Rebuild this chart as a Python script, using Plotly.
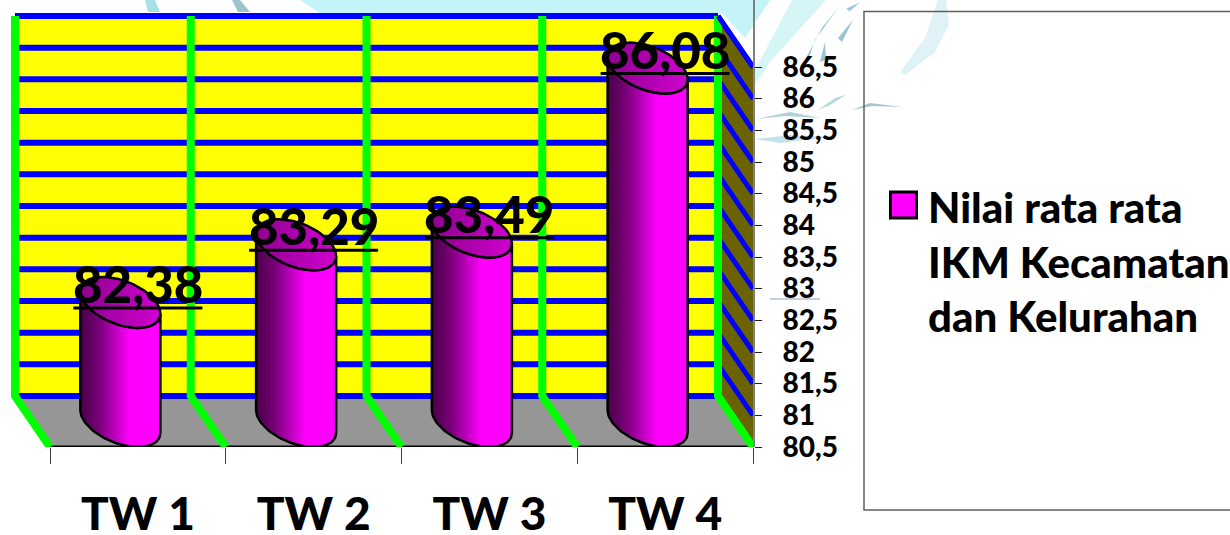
import numpy as np
import plotly.graph_objects as go

# Chart data
categories = ["TW 1", "TW 2", "TW 3", "TW 4"]
values = [82.38, 83.29, 83.49, 86.08]
tick_values = [80.5, 81, 81.5, 82, 82.5, 83, 83.5, 84, 84.5, 85, 85.5, 86, 86.5]
tick_labels = ["80,5", "81", "81,5", "82", "82,5", "83", "83,5", "84", "84,5", "85", "85,5", "86", "86,5"]
series_name = "Nilai rata rata<br>IKM Kecamatan<br>dan Kelurahan"

WIDTH, HEIGHT = 1230, 535
FONT = "Lato"
HEAVY = 900

# Pixel frame of the front plane of the box
PX_LEFT, PX_RIGHT, PX_BOTTOM, PX_TOP = 50.0, 753.0, 447.0, 67.0
X_UNIT = (PX_RIGHT - PX_LEFT) / len(categories)
Y_UNIT = (PX_BOTTOM - PX_TOP) / (tick_values[-1] - tick_values[0])

# Oblique depth: how far the back plane sits from the front plane, in axis units
DEPTH_X = -35.0 / X_UNIT
DEPTH_Y = 51.0 / Y_UNIT
Y_MIN, Y_MAX = tick_values[0], tick_values[-1]
N = len(categories)


def project(x, y, depth):
    """Front-plane axis position pushed back by depth (0 front, 1 back)."""
    return x + DEPTH_X * depth, y + DEPTH_Y * depth


def px(x):
    return x / WIDTH


def py(y):
    return 1 - y / HEIGHT


fig = go.Figure()


def polygon(points, color):
    xs, ys = zip(*points)
    fig.add_trace(go.Scatter(x=xs, y=ys, mode="lines", fill="toself", fillcolor=color,
                             line=dict(width=0), hoverinfo="skip", showlegend=False))


def line(points, color, width):
    xs, ys = zip(*points)
    fig.add_trace(go.Scatter(x=xs, y=ys, mode="lines", cliponaxis=False,
                             line=dict(color=color, width=width, shape="linear"),
                             hoverinfo="skip", showlegend=False))


# Box walls
polygon([project(0, Y_MIN, 1), project(N, Y_MIN, 1), project(N, Y_MAX, 1), project(0, Y_MAX, 1)], "#ffff00")
polygon([project(0, Y_MIN, 1), project(N, Y_MIN, 1), project(N, Y_MIN, 0), project(0, Y_MIN, 0)], "#969696")
polygon([project(N, Y_MIN, 1), project(N, Y_MIN, 0), project(N, Y_MAX, 0), project(N, Y_MAX, 1)], "#6b6300")

# Value gridlines: along the back wall, then forward on the side wall
for tick in tick_values:
    line([project(0, tick, 1), project(N, tick, 1)], "#0000ff", 6)
    if tick != Y_MIN:
        line([project(N, tick, 1), project(N, tick, 0)], "#0000ff", 5)

# Front edge of the floor
line([(0, Y_MIN), (N, Y_MIN)], "#000000", 3)

# Category gridlines: up the back wall and forward along the floor
for i in range(N + 1):
    line([project(i, Y_MAX, 1), project(i, Y_MIN, 1), project(i, Y_MIN, 0)], "#00ff00", 8)
line([project(N, Y_MAX, 1), project(N, Y_MAX, 0)], "#0000ff", 5)

# Cylinders stand halfway into the box
RADIUS_X = 36.0 / X_UNIT
BODY = [[0, "#470047"], [0.25, "#7d007d"], [0.62, "#ff00ff"], [1, "#ff00ff"]]
TOP = [[0, "#8f008f"], [1, "#d000d0"]]
t_edge = np.arctan2(DEPTH_X * -0.5, RADIUS_X)


def rim(cx, cy, t):
    return (cx + RADIUS_X * np.cos(t) - DEPTH_X * 0.5 * np.sin(t),
            cy - DEPTH_Y * 0.5 * np.sin(t))


for i, value in enumerate(values):
    cx, _ = project(i + 0.5, value, 0.5)
    top_y = value + DEPTH_Y * 0.5
    base_y = Y_MIN + DEPTH_Y * 0.5
    front = np.linspace(t_edge, t_edge + np.pi, 60)
    bx, by = rim(cx, base_y, front)
    fx, fy = rim(cx, top_y, front[::-1])
    fig.add_trace(go.Scatter(
        x=np.r_[bx, fx, bx[0]], y=np.r_[by, fy, by[0]],
        mode="lines", fill="toself", cliponaxis=False,
        fillgradient=dict(type="horizontal", colorscale=BODY),
        line=dict(color="#000000", width=2.5), hoverinfo="skip", showlegend=False))
    around = np.linspace(0, 2 * np.pi, 90)
    ex, ey = rim(cx, top_y, around)
    fig.add_trace(go.Scatter(
        x=ex, y=ey, mode="lines", fill="toself", cliponaxis=False,
        fillgradient=dict(type="horizontal", colorscale=TOP),
        line=dict(color="#000000", width=2.5), hoverinfo="skip", showlegend=False))

# Value labels with a rule beneath, sitting above the front-plane height of each value
annotations = []
RULE_RISE = 20.0 / Y_UNIT
RULE_HALF = 64.5 / X_UNIT
for i, value in enumerate(values):
    rule_y = value + RULE_RISE
    line([(i + 0.5 - RULE_HALF, rule_y), (i + 0.5 + RULE_HALF, rule_y)], "#000000", 3)
    annotations.append(dict(
        x=i + 0.5, y=rule_y, xref="x", yref="y", showarrow=False,
        text=f"{value:.2f}".replace(".", ","),
        font=dict(family=FONT, size=51, color="#000000", weight=HEAVY),
        xanchor="center", yanchor="bottom", yshift=-8))

# Legend text
annotations.append(dict(
    x=px(926), y=py(261), xref="paper", yref="paper", showarrow=False,
    text=series_name, align="left", xanchor="left", yanchor="middle",
    font=dict(family=FONT, size=42, color="#000000", weight=HEAVY)))

shapes = []


def decor(path, color, opacity=1.0):
    """Pale background wash and brush strokes, given as (x, y) pixel points."""
    d = "M " + " L ".join(f"{px(x):.5f},{py(y):.5f}" for x, y in path) + " Z"
    shapes.append(dict(type="path", path=d, xref="paper", yref="paper", layer="below",
                       fillcolor=color, line=dict(width=0), opacity=opacity))


decor([(145, 0), (155, 0), (160, 12), (148, 12)], "#a9dfe6")
decor([(232, 0), (240, 0), (250, 12), (238, 12)], "#9ac3cc")
decor([(300, 0), (770, 0), (745, 38), (722, 13), (320, 13)], "#c5f4f8")
decor([(792, 0), (826, 0), (770, 62), (755, 85), (754, 72)], "#d6f5f7")
decor([(806, 58), (822, 28), (838, 8), (815, 40), (808, 60)], "#69aecb", 0.8)
decor([(820, 62), (825, 42), (826, 60)], "#69aecb", 0.7)
decor([(838, 38), (853, 20), (842, 42)], "#69aecb", 0.7)
decor([(846, 9), (860, 2), (850, 11)], "#69aecb", 0.7)
decor([(756, 119), (790, 112), (820, 118), (785, 116)], "#9cc7d4", 0.8)
decor([(755, 139), (790, 135), (830, 137), (780, 143)], "#b5dbe3", 0.8)
decor([(818, 110), (835, 98), (846, 95), (830, 105)], "#a3cdd6", 0.8)
decor([(852, 110), (870, 103), (902, 107), (872, 106)], "#79acc0", 0.7)
decor([(938, 0), (946, 0), (949, 25), (935, 52), (905, 75), (900, 72), (925, 38)], "#dff2f5")
decor([(770, 298), (820, 298), (820, 300), (770, 300)], "#c5cfe0")

# Legend frame and swatch
shapes.append(dict(type="rect", xref="paper", yref="paper", layer="below",
                   x0=px(864), y0=py(510), x1=px(1240), y1=py(11.5),
                   line=dict(color="#5f5f5f", width=1.5), fillcolor="rgba(0,0,0,0)"))
shapes.append(dict(type="rect", xref="paper", yref="paper", layer="above",
                   x0=px(890.5), y0=py(218), x1=px(916.5), y1=py(192),
                   line=dict(color="#000000", width=3), fillcolor="#ff00ff"))

fig.update_layout(
    width=WIDTH, height=HEIGHT, autosize=False,
    margin=dict(l=0, r=0, t=0, b=0),
    paper_bgcolor="#ffffff", plot_bgcolor="rgba(0,0,0,0)",
    showlegend=False, annotations=annotations, shapes=shapes,
    font=dict(family=FONT, color="#000000"),
    xaxis=dict(
        automargin=False,
        domain=[0, PX_RIGHT / WIDTH],
        range=[-PX_LEFT / X_UNIT, N],
        tickmode="array",
        tickvals=[i + 0.5 for i in range(N)],
        ticktext=categories,
        ticks="",
        ticklabelstandoff=36,
        tickfont=dict(family=FONT, size=46, color="#000000", weight=HEAVY),
        showgrid=False, zeroline=False, showline=False,
        minor=dict(tickmode="array", tickvals=list(range(N + 1)), ticks="outside",
                   ticklen=16, tickwidth=1, tickcolor="#404040", showgrid=False),
    ),
    yaxis=dict(
        automargin=False,
        domain=[1 - PX_BOTTOM / HEIGHT, 1],
        range=[Y_MIN, Y_MIN + PX_BOTTOM / Y_UNIT],
        side="right", anchor="x",
        tickmode="array", tickvals=tick_values, ticktext=tick_labels,
        ticks="outside", ticklen=7, tickwidth=1, tickcolor="#202020",
        ticklabelstandoff=15,
        tickfont=dict(family=FONT, size=28, color="#000000", weight=HEAVY),
        showgrid=False, zeroline=False, showline=True, linecolor="#808080", linewidth=2,
    ),
)

fig.write_html("out.html")
